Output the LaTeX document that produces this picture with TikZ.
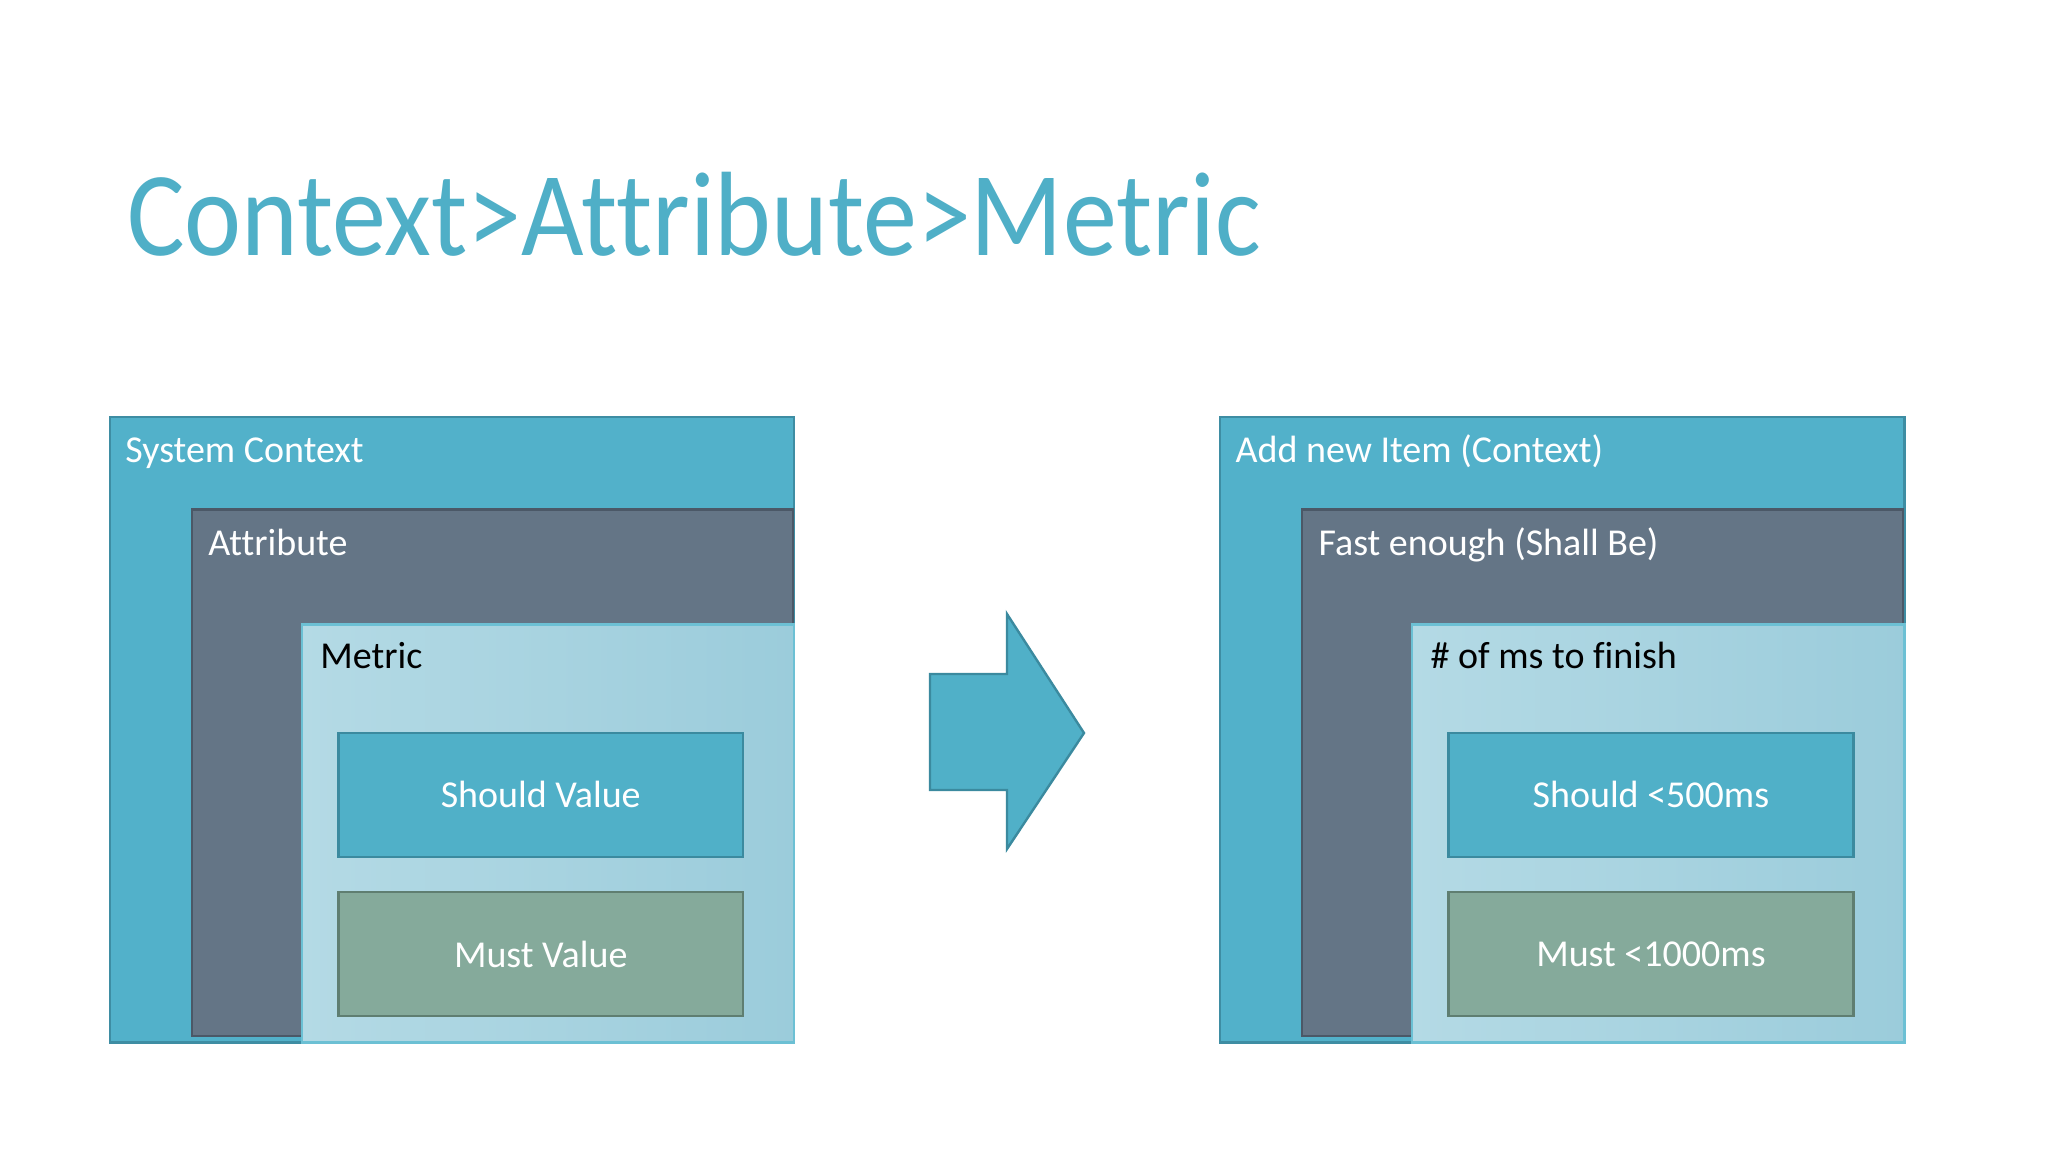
\documentclass[tikz,border=0pt]{standalone}
\usepackage{fontspec}
\setmainfont{Carlito}[Ligatures=NoCommon]
\usetikzlibrary{positioning}
\definecolor{aqua}{HTML}{52B1CA}
\definecolor{aquaD}{HTML}{3E8DA3}
\definecolor{titlec}{HTML}{4FAFC7}
\definecolor{slate}{HTML}{647586}
\definecolor{slateD}{HTML}{4B5867}
\definecolor{paleL}{HTML}{B4DAE5}
\definecolor{paleR}{HTML}{9BCCDB}
\definecolor{paleD}{HTML}{6CC0D4}
\definecolor{should}{HTML}{50B0C8}
\definecolor{shouldD}{HTML}{3B8A9F}
\definecolor{must}{HTML}{85AA9B}
\definecolor{mustD}{HTML}{5F7E71}
\tikzset{
  box/.style={rectangle, inner sep=0pt, outer sep=0pt, line width=1.2pt},
  ctxbox/.style={box, fill=aqua, draw=aquaD, minimum width=342.2pt, minimum height=312.8pt},
  attrbox/.style={box, fill=slate, draw=slateD, minimum width=300.4pt, minimum height=263.15pt},
  metbox/.style={box, left color=paleL, right color=paleR, draw=paleD, minimum width=246.2pt, minimum height=209pt},
  valbox/.style={box, text=white, font=\fontsize{19}{22}\selectfont, minimum width=202.45pt, minimum height=62.05pt},
  shouldbox/.style={valbox, fill=should, draw=shouldD},
  mustbox/.style={valbox, fill=must, draw=mustD},
  lbl/.style={anchor=base west, inner sep=0pt, font=\fontsize{19}{22}\selectfont},
  arrowshape/.style={fill=should, draw=shouldD, line width=1.2pt, line join=miter}
}
\begin{document}
\begin{tikzpicture}[x=0.5pt, y=-0.5pt]
\useasboundingbox (0,0) rectangle (2048,1152);
\fill[white] (0,0) rectangle (2048,1152);
% title
\node[anchor=base west, inner sep=0pt, text=titlec, font=\fontsize{60}{70}\selectfont] (title) at (127,255) {\scalebox{0.9}[1]{Context>Attribute>Metric}};
% left group
\node[ctxbox] (lctx) at (451.9,729.5) {};
\node[attrbox] (lattr) at (492.4,772.55) {};
\node[metbox] (lmet) at (547.9,833.3) {};
\node[shouldbox] (lshould) at (540.75,794.75) {Should Value};
\node[mustbox] (lmust) at (540.75,954.15) {Must Value};
\node[lbl, text=white] (lctxl) at (125,462) {System Context};
\node[lbl, text=white] (lattrl) at (208,555) {Attribute};
\node[lbl, text=black] (lmetl) at (320,668) {Metric};
% arrow
\draw[arrowshape] (930,674) -- (1007,674) -- (1007,614) -- (1084,733) -- (1007,849) -- (1007,790) -- (930,790) -- cycle;
% right group
\begin{scope}[shift={(1110.2,0)}]
\node[ctxbox] (rctx) at (451.9,729.5) {};
\node[attrbox] (rattr) at (492.4,772.55) {};
\node[metbox] (rmet) at (547.9,833.3) {};
\node[shouldbox] (rshould) at (540.75,794.75) {Should <500ms};
\node[mustbox] (rmust) at (540.75,954.15) {Must <1000ms};
\node[lbl, text=white] (rctxl) at (125,462) {Add new Item (Context)};
\node[lbl, text=white] (rattrl) at (208,555) {Fast enough (Shall Be)};
\node[lbl, text=black] (rmetl) at (320,668) {\# of ms to finish};
\end{scope}
\end{tikzpicture}
\end{document}
